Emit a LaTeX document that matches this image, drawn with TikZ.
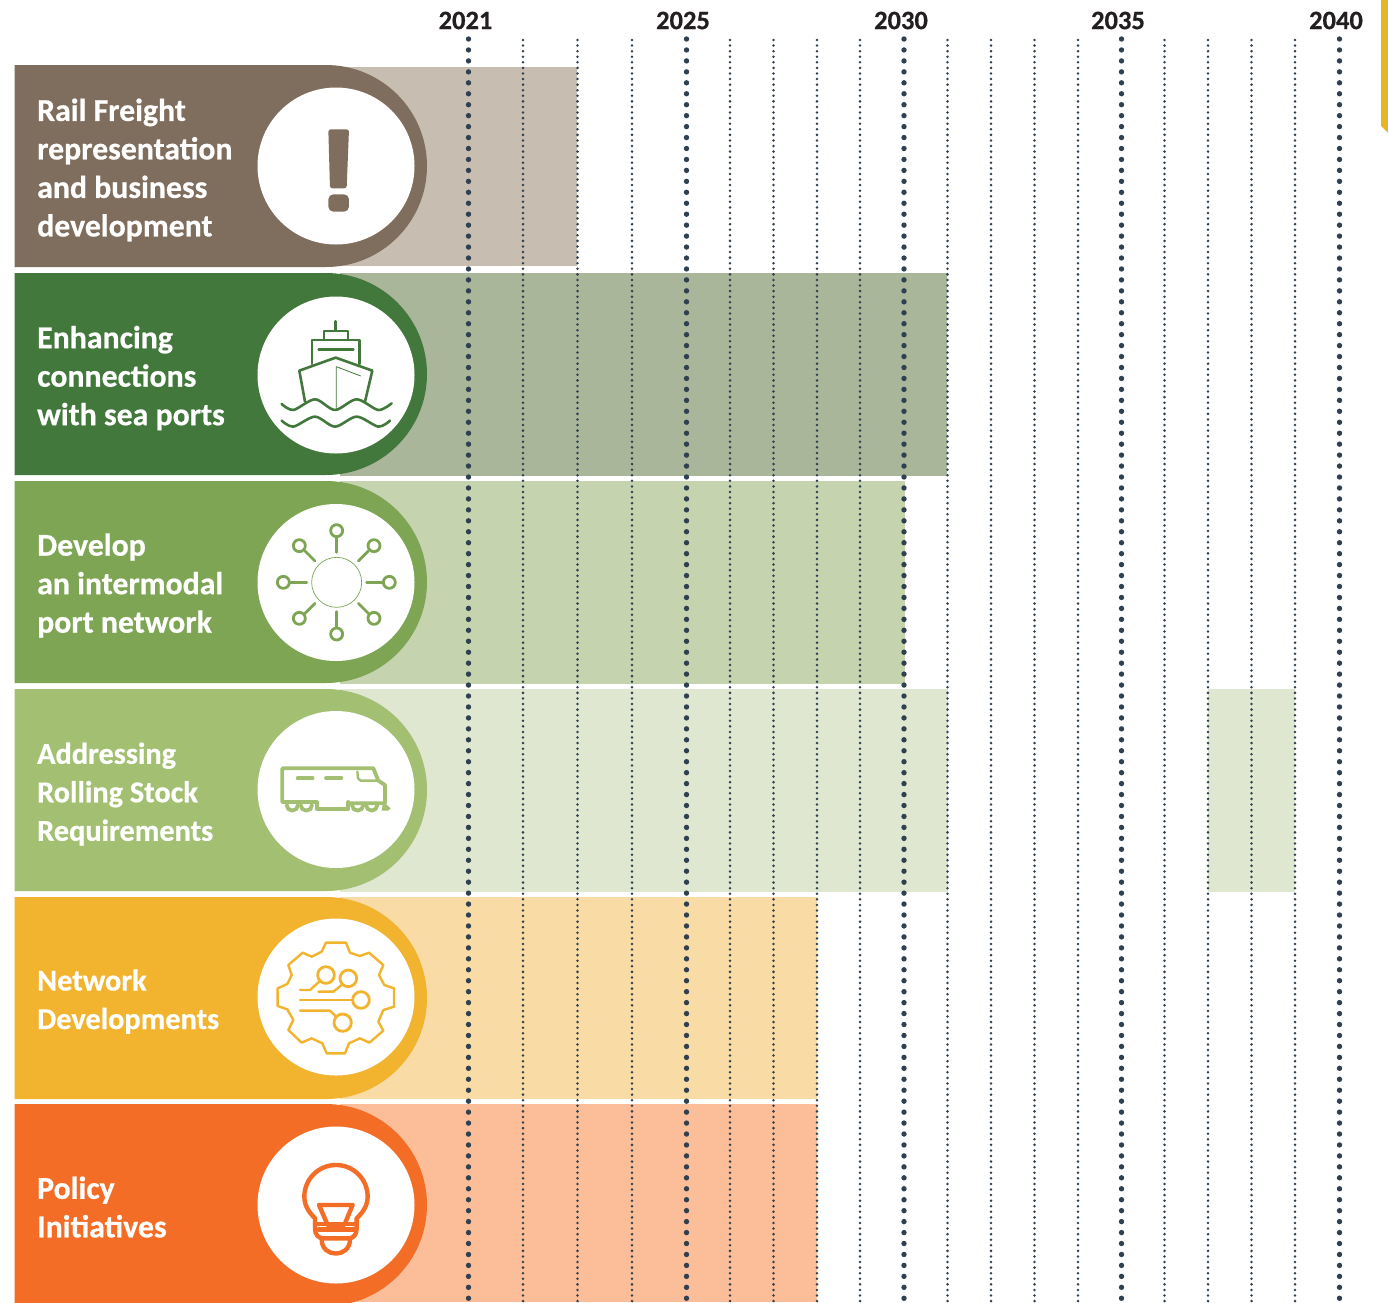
\documentclass[tikz,border=0pt]{standalone}
\usepackage{fontspec}
\setmainfont{Carlito}
\newfontfamily\tagfont[FakeBold=0.6]{Carlito Bold}
\usepackage{tikz}

\definecolor{railtag}{HTML}{7F6E5D}
\definecolor{railband}{HTML}{C7BDB1}
\definecolor{shiptag}{HTML}{43783C}
\definecolor{shipband}{HTML}{A9B69A}
\definecolor{porttag}{HTML}{7DA553}
\definecolor{portband}{HTML}{C5D3AF}
\definecolor{stocktag}{HTML}{A3C072}
\definecolor{stockband}{HTML}{DFE7D1}
\definecolor{networktag}{HTML}{F2B32E}
\definecolor{networkband}{HTML}{F9DBA6}
\definecolor{policytag}{HTML}{F46D26}
\definecolor{policyband}{HTML}{FBBE98}
\definecolor{tickdot}{HTML}{2F4050}
\definecolor{yeartext}{HTML}{231F20}
\definecolor{cornertab}{HTML}{E5B722}

\tikzset{
  major tick/.style={tickdot, line width=5.4pt, line cap=round, dash pattern=on 0pt off 10.95pt},
  minor tick/.style={tickdot, line width=2.8pt, line cap=round, dash pattern=on 0pt off 5.58pt},
  year label/.style={text=yeartext, font=\fontsize{26.5}{30}\selectfont\tagfont, inner sep=0pt},
  tag label/.style={text=white, anchor=west, align=left, inner sep=0pt, font=\fontsize{31.8}{38.5}\selectfont\tagfont},
  small tag label/.style={tag label, font=\fontsize{30.3}{38.5}\selectfont\tagfont},
  zoomed/.style={shift={#1}, x=.3333pt, y=-.3333pt, line join=round, line cap=round}
}

\begin{document}
\begin{tikzpicture}[x=1pt,y=-1pt]
    \useasboundingbox (0,0) rectangle (1388,1302);
    \clip (0,0) rectangle (1388,1302);

    % bands
    \fill[railband] (340,67) rectangle (577,266);
    \fill[shipband] (340,273) rectangle (947,476);
    \fill[portband] (340,481) rectangle (905,684);
    \fill[stockband] (340,689) rectangle (948,892);
    \fill[stockband] (1208,689) rectangle (1295,892);
    \fill[networkband] (340,897) rectangle (817,1099);
    \fill[policyband] (340,1104) rectangle (817,1302);

    % years
    \draw[minor tick] (523,40) -- (523,1302);
    \draw[minor tick] (577.5,40) -- (577.5,1302);
    \draw[minor tick] (632,40) -- (632,1302);
    \draw[minor tick] (730,40) -- (730,1302);
    \draw[minor tick] (773.5,40) -- (773.5,1302);
    \draw[minor tick] (817,40) -- (817,1302);
    \draw[minor tick] (860,40) -- (860,1302);
    \draw[minor tick] (947.5,40) -- (947.5,1302);
    \draw[minor tick] (991,40) -- (991,1302);
    \draw[minor tick] (1034.5,40) -- (1034.5,1302);
    \draw[minor tick] (1078,40) -- (1078,1302);
    \draw[minor tick] (1164.5,40) -- (1164.5,1302);
    \draw[minor tick] (1208,40) -- (1208,1302);
    \draw[minor tick] (1251.5,40) -- (1251.5,1302);
    \draw[minor tick] (1295,40) -- (1295,1302);

    \draw[major tick] (468.5,39) -- (468.5,1302);
    \draw[major tick] (686.5,39) -- (686.5,1302);
    \draw[major tick] (904,39) -- (904,1302);
    \draw[major tick] (1121.5,39) -- (1121.5,1302);
    \draw[major tick] (1339.5,39) -- (1339.5,1302);

    \node[year label] (y2021) at (465.5,20.5) {2021};
    \node[year label] (y2025) at (683,20.5) {2025};
    \node[year label] (y2030) at (901,20.5) {2030};
    \node[year label] (y2035) at (1118,20.5) {2035};
    \node[year label] (y2040) at (1336,20.5) {2040};

    % tags
    \fill[railtag] (14.5,65) -- (326,65) arc[start angle=-90,end angle=90,radius=101] -- (14.5,267) -- cycle;
    \fill[shiptag] (14.5,273) -- (326,273) arc[start angle=-90,end angle=90,radius=101] -- (14.5,475) -- cycle;
    \fill[porttag] (14.5,481) -- (326,481) arc[start angle=-90,end angle=90,radius=101] -- (14.5,683) -- cycle;
    \fill[stocktag] (14.5,689) -- (326,689) arc[start angle=-90,end angle=90,radius=101] -- (14.5,891) -- cycle;
    \fill[networktag] (14.5,897) -- (326,897) arc[start angle=-90,end angle=90,radius=101] -- (14.5,1099) -- cycle;
    \fill[policytag] (14.5,1104) -- (326,1104) arc[start angle=-90,end angle=90,radius=101] -- (14.5,1306) -- cycle;

    \fill[white] (336,166) circle (78.5);
    \fill[white] (336,375) circle (78.5);
    \fill[white] (336,582.5) circle (78.5);
    \fill[white] (336,789.5) circle (78.5);
    \fill[white] (336,997) circle (78.5);
    \fill[white] (336,1205) circle (78.5);

    \node[tag label] (rail) at (37,170) {Rail Freight\\representation\\and business\\development};
    \node[tag label] (ship) at (37,378) {Enhancing\\connections\\with sea ports};
    \node[tag label] (port) at (37,585.5) {Develop\\an intermodal\\port network};
    \node[small tag label] (stock) at (37,794) {Addressing\\Rolling Stock\\Requirements};
    \node[small tag label] (network) at (37,1001.5) {Network\\Developments};
    \node[tag label] (policy) at (37,1207) {Policy\\Initiatives};

    % exclamation mark
    \begin{scope}[zoomed={(250,60)}]
        \fill[railtag, rounded corners=2.5pt] (235,208) -- (297,208) -- (290,385) -- (240,385) -- cycle;
        \fill[railtag, rounded corners=5pt] (235,403) rectangle (297,455);
    \end{scope}

    % ship
    \begin{scope}[zoomed={(250,60)}, shiptag, line width=2.6pt]
        \draw (257,784) -- (257,812);
        \draw (222,838) -- (222,813) -- (294,813) -- (294,838);
        \draw (186,912) -- (186,840) -- (329,840) -- (329,912);
        \draw (206,869) -- (310,869);
        \draw (165,1025) -- (148,932) -- (257,893) -- (367,932) -- (345,1025);
        \draw[line width=.8pt] (259,1045) -- (259,920) -- (332,948);
        \draw plot[smooth] coordinates {(95,1032) (130,1050) (195,1018) (255,1050) (320,1018) (385,1050) (425,1030)};
        \draw plot[smooth] coordinates {(95,1082) (130,1100) (195,1070) (255,1100) (320,1070) (385,1100) (420,1082)};
    \end{scope}

    % hub
    \begin{scope}[zoomed={(250,490)}, porttag, line width=2.8pt]
        \draw[line width=.7pt] (260,277) circle [radius=75];
        \draw (260,187) -- (260,140);
        \draw (260,365) -- (260,412);
        \draw (170,277) -- (122,277);
        \draw (350,277) -- (398,277);
        \draw (195,213) -- (165,183);
        \draw (325,213) -- (355,183);
        \draw (195,340) -- (165,370);
        \draw (325,340) -- (355,370);
        \draw (260,122) circle [radius=18];
        \draw (260,432) circle [radius=18];
        \draw (100,277) circle [radius=18];
        \draw (418,277) circle [radius=18];
        \draw (148,167) circle [radius=18];
        \draw (372,167) circle [radius=18];
        \draw (148,385) circle [radius=18];
        \draw (372,385) circle [radius=18];
    \end{scope}

    % locomotive
    \begin{scope}[zoomed={(250,490)}, stocktag, line width=3.8pt]
        \draw (200,936) -- (97,936) -- (97,835) -- (370,835) -- (385,872) -- (405,885) -- (405,940) -- (295,940);
        \draw (200,936) -- (200,957) -- (295,957) -- (295,936);
        \draw (110,945) arc[start angle=180,end angle=0,radius=17];
        \draw (152,945) arc[start angle=180,end angle=0,radius=17];
        \draw (306,945) arc[start angle=180,end angle=0,radius=17];
        \draw (348,945) arc[start angle=180,end angle=0,radius=17];
        \draw (143,865) -- (188,865);
        \draw (228,865) -- (274,865);
        \draw[line width=2.4pt] (322,845) -- (324,865) -- (332,872) -- (385,872);
        \fill (400,935) -- (422,955) -- (415,962) -- (395,962) -- cycle;
    \end{scope}

    % gear
    \begin{scope}[zoomed={(250,910)}, networktag, line width=2.4pt]
        \draw (228,98) -- (288,98) -- (300,128) -- (330,138) -- (357,128) -- (400,165) -- (387,195) -- (403,225) -- (432,235) -- (432,290) -- (400,300) -- (385,335) -- (400,362) -- (358,398) -- (330,385) -- (297,400) -- (285,430) -- (230,430) -- (217,400) -- (185,385) -- (155,398) -- (115,360) -- (130,330) -- (112,298) -- (83,288) -- (83,235) -- (112,222) -- (125,195) -- (115,165) -- (158,128) -- (185,140) -- (215,125) -- cycle;
        \draw[line width=2.8pt] (228,195) circle [radius=25];
        \draw[line width=2.8pt] (295,205) circle [radius=25];
        \draw[line width=2.8pt] (333,270) circle [radius=25];
        \draw[line width=2.8pt] (278,338) circle [radius=26];
        \draw (150,240) -- (180,240) -- (210,213);
        \draw (205,245) -- (250,245) -- (275,225);
        \draw (150,270) -- (308,270);
        \draw (150,302) -- (240,302) -- (258,320);
    \end{scope}

    % light bulb
    \begin{scope}[zoomed={(250,910)}, policytag, line width=4.4pt]
        \draw (195,942) -- (195,925) .. controls (175,905) and (163,885) .. (163,860) arc[start angle=180,end angle=360,radius=95] .. controls (353,885) and (341,905) .. (320,925) -- (320,942);
        \draw (207,885) -- (308,885) -- (283,945) -- (233,945) -- cycle;
        \draw (195,942) -- (320,942);
        \draw (195,942) -- (195,955) .. controls (195,975) and (205,985) .. (222,985) -- (295,985) .. controls (310,985) and (320,975) .. (320,955) -- (320,942);
        \draw (215,988) .. controls (215,1045) and (300,1045) .. (300,988);
        \draw (205,958) -- (312,958);
    \end{scope}

    % corner tab
    \fill[cornertab] (1381,0) -- (1388,0) -- (1388,133) -- (1381,126) -- cycle;
\end{tikzpicture}
\end{document}
